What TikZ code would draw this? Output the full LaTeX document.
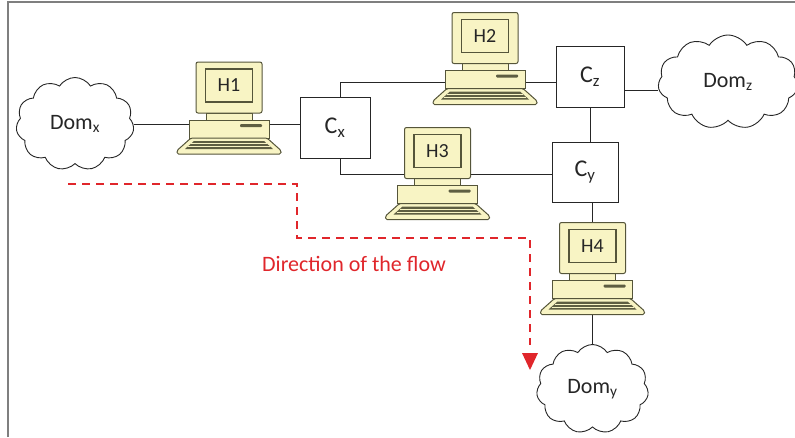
\documentclass[tikz,border=0pt]{standalone}
\usepackage{fontspec}
\setmainfont{Carlito}
\usetikzlibrary{shapes.symbols,arrows.meta,backgrounds}
\definecolor{pcfill}{HTML}{F8F4C4}
\definecolor{pcline}{HTML}{55553A}
\definecolor{pcdark}{HTML}{5E5E42}
\definecolor{flowred}{HTML}{E0262B}
\definecolor{frameclr}{HTML}{7F7F7F}
\definecolor{txt}{HTML}{262626}
\tikzset{
  pcpart/.style={draw=pcline, fill=pcfill, line width=1pt},
  ctrlbox/.style={draw=black!85, line width=0.9pt, fill=white, inner sep=0pt, font=\fontsize{24}{26}\selectfont, text=txt},
  dom/.style={cloud, cloud puffs=11, cloud puff arc=115, cloud ignores aspect, draw=black!85, line width=0.9pt, fill=white, inner sep=0pt, font=\fontsize{22}{24}\selectfont, text=txt},
  link/.style={line width=0.9pt, draw=black!85},
  flow/.style={draw=flowred, line width=1.4pt, dash pattern=on 8pt off 6pt},
  computer/.pic={
    \path[pcpart] (-23,25.5) rectangle (23,33);
    \node[pcpart, rounded corners=2pt, minimum width=66pt, minimum height=51pt, inner sep=0pt] (-mon) at (0,0) {};
    \node[pcpart, line width=1.3pt, minimum width=47pt, minimum height=33pt, inner sep=0pt, font=\fontsize{20}{22}\selectfont, text=txt] (-scr) at (0,-2) {#1};
    \node[pcpart, minimum width=80pt, minimum height=18pt, inner sep=0pt] (-base) at (0,41.5) {};
    \path[fill=pcdark, rounded corners=1pt] (11,36.5) rectangle (33,39.5);
    \path[pcpart, rounded corners=1.5pt] (-38,50.5) -- (38,50.5) -- (52,63) -- (52,66.5) -- (-52,66.5) -- (-52,63) -- cycle;
    \path[fill=pcdark] (-35,53.5) -- (35,53.5) -- (44,61.5) -- (-44,61.5) -- cycle;
    \draw[pcfill, line width=0.8pt] (-38,56.3) -- (38,56.3) (-41,59) -- (41,59);
    \coordinate (-kb) at (0,66.5);
  }
}
\begin{document}
\begin{tikzpicture}[x=1pt,y=-1pt]
\useasboundingbox (0,0) rectangle (795,437);
\draw[frameclr, line width=2pt] (8,437) -- (8,2) -- (795,2);
\node[dom, minimum width=118pt, minimum height=93pt] (domx) at (75,124) {Dom\textsubscript{x}};
\node[dom, minimum width=140pt, minimum height=94pt] (domz) at (728,82) {Dom\textsubscript{z}};
\node[dom, minimum width=112pt, minimum height=89pt] (domy) at (592.5,389) {Dom\textsubscript{y}};
\pic (h1) at (229,87.5) {computer=H1};
\pic (h2) at (485,38) {computer=H2};
\pic (h3) at (437.5,153) {computer=H3};
\pic (h4) at (592.5,248) {computer=H4};
\node[ctrlbox, minimum width=70pt, minimum height=61pt] (cx) at (335,127.5) {C\textsubscript{x}};
\node[ctrlbox, minimum width=68pt, minimum height=61pt] (cz) at (590,76.5) {C\textsubscript{z}};
\node[ctrlbox, minimum width=66pt, minimum height=60pt] (cy) at (585,172) {C\textsubscript{y}};
\begin{scope}[on background layer]
\draw[link] (domx.east) -- (domx.east -| h1-base.west);
\draw[link] (h1-base.east |- domx.east) -- (cx.west |- domx.east);
\draw[link] ([xshift=5pt]cx.north) |- ([yshift=-5.5pt]cz.west);
\draw[link] ([xshift=5pt]cx.south) |- ([yshift=-2.5pt]cy.west);
\draw[link] ([yshift=-13.5pt]cz.east) -- ([yshift=-13.5pt]cz.east -| domz.west);
\draw[link] (cz.south) -- (cz.south |- cy.north);
\draw[link] (h4-mon.north |- cy.south) -- (h4-mon.north);
\draw[link] (h4-kb) -- (domy.north);
\end{scope}
\coordinate (f0) at (68,184);
\coordinate (f1) at (297,184);
\coordinate (f2) at (297,238);
\coordinate (f3) at (530,238);
\coordinate (f4) at (530,345);
\coordinate (f5) at (530,353);
\coordinate (f6) at (530,370);
\draw[flow] (f0) -- (f1) -- (f2) -- (f3) -- (f4);
\fill[flowred] ([xshift=-8pt]f5) -- ([xshift=8pt]f5) -- (f6) -- cycle;
\node[text=flowred, font=\fontsize{22}{24}\selectfont] (flowlbl) at (354,264) {Direction of the flow};
\end{tikzpicture}
\end{document}
